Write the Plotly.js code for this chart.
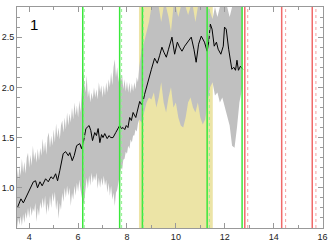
<!DOCTYPE html>
<html>
<head>
<meta charset="utf-8">
<script src="https://cdn.plot.ly/plotly-3.0.1.min.js"></script>
<style>html,body{margin:0;padding:0;background:#fff;}#chart{width:334px;height:246px;}</style>
</head>
<body>
<div id="chart"></div>
<script>
// Black curve
const lineX = [3.53,3.60,3.66,3.76,3.90,4.00,4.07,4.17,4.26,4.34,4.44,4.53,4.67,4.78,4.89,4.98,5.08,5.16,5.25,5.39,5.49,5.60,5.66,5.76,5.84,5.94,6.07,6.14,6.23,6.32,6.45,6.52,6.59,6.68,6.75,6.82,6.89,6.96,7.02,7.09,7.19,7.27,7.33,7.43,7.54,7.63,7.70,7.77,7.84,7.91,7.97,8.04,8.11,8.18,8.25,8.36,8.45,8.52,8.59,8.66,8.72,8.83,8.93,9.00,9.13,9.24,9.34,9.43,9.51,9.61,9.70,9.84,9.95,10.06,10.15,10.25,10.36,10.49,10.63,10.74,10.83,10.93,11.04,11.17,11.28,11.35,11.41,11.48,11.57,11.66,11.73,11.84,11.94,11.99,12.06,12.16,12.23,12.29,12.37,12.44,12.50,12.56,12.64,12.74];
const lineY = [0.81,0.85,0.89,0.85,0.92,0.98,1.00,1.06,1.07,1.00,1.06,1.02,1.09,1.06,1.11,1.09,1.14,1.07,1.17,1.34,1.36,1.32,1.35,1.27,1.32,1.42,1.44,1.39,1.47,1.59,1.62,1.57,1.47,1.55,1.52,1.59,1.45,1.53,1.50,1.54,1.49,1.52,1.50,1.50,1.55,1.59,1.62,1.59,1.60,1.58,1.62,1.60,1.70,1.67,1.75,1.70,1.79,1.86,1.83,1.86,1.93,2.02,2.10,2.18,2.29,2.24,2.32,2.40,2.35,2.30,2.38,2.50,2.33,2.45,2.40,2.36,2.41,2.45,2.50,2.38,2.25,2.43,2.51,2.45,2.36,2.46,2.63,2.58,2.41,2.45,2.38,2.33,2.41,2.60,2.58,2.38,2.26,2.18,2.20,2.17,2.27,2.17,2.21,2.18];

// Grey uncertainty band
const bandX = [3.50,3.55,3.60,3.65,3.70,3.75,3.80,3.85,3.90,3.95,4.00,4.05,4.10,4.15,4.20,4.25,4.30,4.35,4.40,4.45,4.50,4.55,4.60,4.65,4.70,4.75,4.80,4.85,4.90,4.95,5.00,5.05,5.10,5.15,5.20,5.25,5.30,5.35,5.40,5.45,5.50,5.55,5.60,5.65,5.70,5.75,5.80,5.85,5.90,5.95,6.00,6.05,6.10,6.15,6.20,6.25,6.30,6.35,6.40,6.45,6.50,6.55,6.60,6.65,6.70,6.75,6.80,6.85,6.90,6.95,7.00,7.05,7.10,7.15,7.20,7.25,7.30,7.35,7.40,7.45,7.50,7.55,7.60,7.65,7.70,7.75,7.80,7.85,7.90,7.95,8.00,8.05,8.10,8.15,8.20,8.25,8.30,8.35,8.40,8.45,8.50,
  8.6,8.7,8.8,8.9,9.0,9.1,9.2,9.3,9.4,9.5,9.6,9.7,9.8,9.9,10.0,10.1,10.2,10.3,10.4,10.5,10.6,10.7,10.8,10.9,11.0,11.1,11.2,11.3,11.4,11.5,11.6,11.7,11.8,11.9,12.0,12.1,12.2,12.3,12.4,12.5,12.6,12.72];
const bandUpper = [1.19,1.08,1.22,1.12,1.29,1.15,1.26,1.14,1.30,1.35,1.20,1.33,1.22,1.42,1.28,1.36,1.25,1.39,1.27,1.40,1.32,1.49,1.35,1.46,1.33,1.50,1.55,1.40,1.52,1.42,1.58,1.45,1.64,1.50,1.60,1.48,1.62,1.67,1.55,1.70,1.58,1.75,1.62,1.74,1.65,1.80,1.68,1.85,1.72,1.82,1.70,1.87,1.75,1.95,2.18,2.05,1.95,2.12,1.90,1.98,1.85,1.95,1.88,2.00,1.90,1.98,1.88,2.05,1.95,2.02,1.90,2.02,1.92,2.05,1.95,2.08,2.00,2.15,2.02,2.20,2.28,2.10,2.20,2.05,2.18,2.06,2.12,1.98,2.08,1.96,2.06,1.95,2.05,1.94,2.04,1.96,2.05,1.98,2.10,2.05,2.20,
  2.38,2.45,2.55,2.65,2.80,2.80,2.80,2.80,2.65,2.80,2.80,2.70,2.55,2.80,2.80,2.70,2.80,2.80,2.80,2.72,2.80,2.80,2.65,2.80,2.80,2.80,2.80,2.80,2.75,2.68,2.80,2.70,2.80,2.80,2.80,2.80,2.70,2.80,2.80,2.80,2.80,2.80];
const bandLower = [0.60,0.70,0.63,0.72,0.62,0.74,0.65,0.76,0.69,0.80,0.70,0.82,0.72,0.80,0.76,0.85,0.66,0.80,0.72,0.86,0.79,0.90,0.80,0.92,0.73,0.85,0.76,0.92,0.80,0.95,0.86,0.96,0.78,0.88,0.69,0.85,0.78,0.95,0.86,1.00,0.90,1.02,0.92,1.00,0.82,0.95,0.88,1.02,0.92,1.05,0.96,1.08,0.98,0.92,0.84,0.86,0.98,1.10,0.99,1.12,1.02,1.15,1.05,1.12,1.07,1.15,0.99,1.10,1.00,1.10,1.02,1.12,1.02,1.08,0.95,1.05,0.92,1.02,0.88,0.95,0.82,0.95,0.98,1.08,1.12,1.20,1.18,1.28,1.29,1.36,1.34,1.42,1.39,1.48,1.45,1.52,1.52,1.58,1.56,1.64,1.68,
  1.65,1.75,1.85,1.90,1.88,1.95,1.80,1.90,2.05,1.85,1.75,1.90,2.00,1.80,1.85,1.70,1.62,1.60,1.70,1.85,1.90,1.80,1.75,1.85,1.70,1.63,1.68,1.85,2.00,2.05,1.92,1.95,1.85,1.90,1.80,1.72,1.62,1.42,1.40,1.60,1.85,2.00];

// Shaded interval and vertical markers
const shadeRange = [8.49, 11.51];
const greenSolid = [6.19, 7.70, 8.63, 11.28, 12.71];
const greenDotted = [6.25, 7.78, 8.67, 11.37];
const redSolid = [12.82, 14.33, 15.58];
const redDotted = [12.94, 14.49, 15.73];

const xTicks = [4, 6, 8, 10, 12, 14, 16];
const yTicks = [1.0, 1.5, 2.0, 2.5];
const panelLabel = "1";

const shapes = [];
shapes.push({type:'rect', xref:'x', yref:'paper', x0:shadeRange[0], x1:shadeRange[1], y0:0, y1:1,
  fillcolor:'#ece4a6', line:{width:0}, layer:'below'});
function vline(x, color, width, dash) {
  shapes.push({type:'line', xref:'x', yref:'paper', x0:x, x1:x, y0:0, y1:1,
    line:{color:color, width:width, dash:dash}, layer:'above'});
}
greenSolid.forEach(x => vline(x, '#3ae83a', 1.5, 'solid'));
greenDotted.forEach(x => vline(x, '#90f090', 1, 'dot'));
redSolid.forEach(x => vline(x, '#f06a6a', 1.5, 'solid'));
redDotted.forEach(x => vline(x, '#f5a0a0', 1, 'dot'));

const traces = [
  {x:bandX, y:bandLower, type:'scatter', mode:'lines', line:{width:0, color:'#c0c0c0'}, hoverinfo:'skip', showlegend:false},
  {x:bandX, y:bandUpper, type:'scatter', mode:'lines', fill:'tonexty', fillcolor:'#c0c0c0', line:{width:0, color:'#c0c0c0'}, hoverinfo:'skip', showlegend:false},
  {x:lineX, y:lineY, type:'scatter', mode:'lines', line:{color:'#000000', width:1}, showlegend:false}
];

const axisCommon = {
  showline:true, linecolor:'#999', linewidth:1, mirror:'ticks',
  ticks:'inside', ticklen:5, tickcolor:'#999', tickwidth:1,
  showgrid:false, zeroline:false,
  tickfont:{family:'Liberation Sans, Arial, sans-serif', size:9, color:'#222'}
};

const layout = {
  width:334, height:246,
  margin:{l:17, r:11, t:7, b:18, pad:0},
  paper_bgcolor:'#ffffff', plot_bgcolor:'#ffffff',
  showlegend:false,
  xaxis:Object.assign({}, axisCommon, {range:[3.5, 16.02], tickmode:'array', tickvals:xTicks, ticktext:xTicks.map(String),
    minor:{dtick:1, ticks:'inside', ticklen:3, tickcolor:'#999'}}),
  yaxis:Object.assign({}, axisCommon, {range:[0.6, 2.8], tickmode:'array', tickvals:yTicks, ticktext:yTicks.map(v=>v.toFixed(1)),
    minor:{dtick:0.1, tick0:0, ticks:'inside', ticklen:3, tickcolor:'#999'}}),
  shapes:shapes,
  annotations:[{text:panelLabel, xref:'paper', yref:'paper', x:0.035, y:0.97, xanchor:'left', yanchor:'top',
    showarrow:false, font:{family:'Liberation Sans, Arial, sans-serif', size:15, color:'#000'}}]
};

Plotly.newPlot('chart', traces, layout, {staticPlot:true, displayModeBar:false});
</script>
</body>
</html>
